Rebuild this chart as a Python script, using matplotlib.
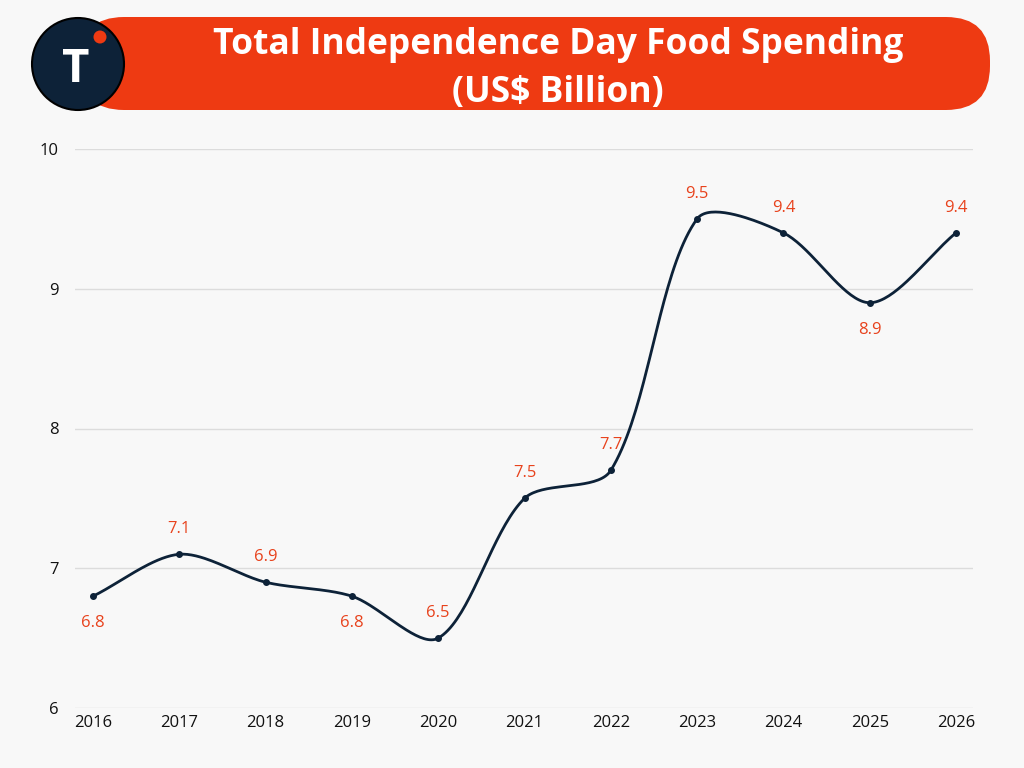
import matplotlib.pyplot as plt
import numpy as np
from matplotlib.patches import FancyBboxPatch, Circle

years = [2016, 2017, 2018, 2019, 2020, 2021, 2022, 2023, 2024, 2025, 2026]
spending = [6.8, 7.1, 6.9, 6.8, 6.5, 7.5, 7.7, 9.5, 9.4, 8.9, 9.4]
label_pos = ['below', 'above', 'above', 'below', 'above', 'above', 'above', 'above', 'above', 'below', 'above']

navy = '#0d2238'
orange = '#ee3a12'
label_col = '#e8421c'
bg = '#f8f8f8'

plt.rcParams['font.family'] = ['Open Sans', 'DejaVu Sans']


def smooth(xs, ys, sx, sy, tension=0.3, n=40):
    # Chart.js style spline, distances measured in pixel space
    px = np.array(xs, float) * sx
    py = np.array(ys, float) * sy
    m = len(px)
    cp_prev = np.zeros((m, 2))
    cp_next = np.zeros((m, 2))
    for i in range(m):
        p1 = np.array([px[i], py[i]])
        p0 = np.array([px[i - 1], py[i - 1]]) if i > 0 else p1
        p2 = np.array([px[i + 1], py[i + 1]]) if i < m - 1 else p1
        d01 = np.hypot(*(p1 - p0))
        d12 = np.hypot(*(p2 - p1))
        tot = d01 + d12
        s01 = d01 / tot if tot else 0
        s12 = d12 / tot if tot else 0
        cp_prev[i] = p1 - tension * s01 * (p2 - p0)
        cp_next[i] = p1 + tension * s12 * (p2 - p0)
    outx, outy = [], []
    t = np.linspace(0, 1, n)[:, None]
    for i in range(m - 1):
        a = np.array([px[i], py[i]])
        b = cp_next[i]
        c = cp_prev[i + 1]
        d = np.array([px[i + 1], py[i + 1]])
        pts = (1 - t) ** 3 * a + 3 * (1 - t) ** 2 * t * b + 3 * (1 - t) * t ** 2 * c + t ** 3 * d
        outx.extend(pts[:, 0])
        outy.extend(pts[:, 1])
    return np.array(outx) / sx, np.array(outy) / sy


fig = plt.figure(figsize=(10.24, 7.68), dpi=100, facecolor=bg)
ax = fig.add_axes([75 / 1024, 1 - 708 / 768, 898 / 1024, 559 / 768])
ax.set_facecolor(bg)

sx_, sy_ = smooth(years, spending, 86.3, 139.75)
ax.plot(sx_, sy_, color=navy, lw=2, zorder=3)
ax.plot(years, spending, 'o', color=navy, ms=4, zorder=4)

for x, y, pos in zip(years, spending, label_pos):
    off = 25 if pos == 'above' else -27
    ax.annotate(f'{y}', (x, y), xytext=(0, off), textcoords='offset pixels',
                ha='center', va='center', color=label_col, fontsize=12)

ax.set_xlim(2016 - 18 / 86.3, 2026 + 17 / 86.3)
ax.set_ylim(6, 10)
ax.set_yticks([6, 7, 8, 9, 10])
ax.set_xticks(years)
ax.grid(axis='y', color='#dcdcdc', lw=1)
ax.set_axisbelow(True)
for s in ax.spines.values():
    s.set_visible(False)
ax.tick_params(length=0, labelsize=12, colors='#111111')
ax.tick_params(axis='y', pad=12)
ax.tick_params(axis='x', pad=5)

# title banner and logo on an overlay axes in pixel coordinates
lax = fig.add_axes([0, 0, 1, 1], facecolor='none')
lax.set_xlim(0, 1024)
lax.set_ylim(768, 0)
lax.axis('off')
lax.add_patch(FancyBboxPatch((80, 17), 910, 93, boxstyle='round,pad=0,rounding_size=44',
                             facecolor=orange, edgecolor='none', zorder=1))
lax.text(558, 45, 'Total Independence Day Food Spending', ha='center', va='center',
         color='white', fontsize=25.5, fontweight='bold', zorder=2)
lax.text(558, 93, '(US$ Billion)', ha='center', va='center',
         color='white', fontsize=25.5, fontweight='bold', zorder=2)
lax.add_patch(Circle((78, 64), 46, facecolor=navy, edgecolor='black', lw=1.5, zorder=3))
lax.add_patch(Circle((100, 37), 6.5, facecolor=orange, edgecolor='none', zorder=4))
lax.text(76, 70, 'T', ha='center', va='center', color='white', fontsize=34, fontweight='bold', zorder=4)

fig.savefig('out.png', dpi=100, facecolor=bg)
